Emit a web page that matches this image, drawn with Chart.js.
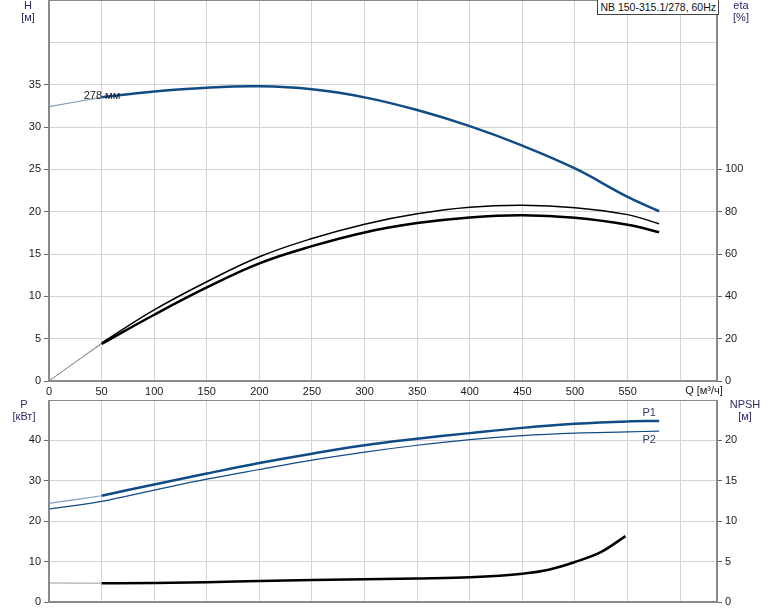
<!DOCTYPE html>
<html><head><meta charset="utf-8">
<script src="https://cdn.jsdelivr.net/npm/chart.js@4.4.1/dist/chart.umd.min.js"></script>
<style>
html,body{margin:0;padding:0;background:#fff;}
#wrap{position:relative;width:774px;height:611px;overflow:hidden;font-family:"Liberation Sans",Arial,sans-serif;}
#c1{position:absolute;left:0;top:0;}
#c2{position:absolute;left:0;top:400px;}
#title{position:absolute;left:597px;top:0;width:118px;height:14px;border:1px solid #444;border-top:none;background:#fff;font-size:10.5px;line-height:14px;text-align:right;padding-right:2px;color:#111;white-space:nowrap;box-sizing:content-box;}
</style></head>
<body><div id="wrap">
<canvas id="c1" width="774" height="400"></canvas>
<canvas id="c2" width="774" height="211"></canvas>
<div id="title">NB 150-315.1/278, 60Hz</div>
</div>
<script>
// ---- data ----
const qH = [0,50,100,150,200,250,300,350,400,450,500,550,580];
const headH = [32.4,33.5,34.2,34.65,34.8,34.45,33.5,32.0,30.1,27.8,25.1,21.75,20.05];
const qEta = [0,25,50,100,150,200,250,300,350,400,450,500,550,580];
const etaUpper = [0,9.0,18.0,33.6,46.9,58.7,67.3,74.1,79.0,82.1,83.0,81.9,78.6,74.3];
const etaLower = [0,8.8,17.5,31.3,44.2,55.6,63.7,70.2,74.6,77.3,78.3,77.1,73.8,70.3];
const qP = [0,50,100,150,200,250,300,350,400,450,500,550,580];
const powerP1 = [24.4,26.3,29.1,31.8,34.4,36.7,38.8,40.4,41.8,43.1,44.1,44.7,44.8];
const powerP2 = [23.0,24.9,27.7,30.4,32.8,35.1,37.1,38.8,40.2,41.2,41.8,42.1,42.3];
const qNpsh = [0,50,100,150,200,250,300,350,400,450,475,500,525,548];
const npsh = [2.35,2.33,2.35,2.45,2.6,2.72,2.82,2.92,3.05,3.5,4.0,4.95,6.2,8.15];
const qTickLabels = [0,50,100,150,200,250,300,350,400,450,500,550];
const hTickLabels = [0,5,10,15,20,25,30,35];
const etaTickLabels = [0,20,40,60,80,100];
const pTickLabels = [0,10,20,30,40];
const npshTickLabels = [0,5,10,15,20];
const curveLabel = '278 мм';
const pumpTitle = 'NB 150-315.1/278, 60Hz';

document.getElementById('title').textContent = pumpTitle;

const FONT = '"Liberation Sans", Arial, sans-serif';
const BLUE = '#114b86', BLUE_L = '#7d9cc2', BLACK = '#000', GREY = '#9a9a9a';
const GRID = '#d4d4d4', TXT = '#1a1a1a', TITLE = '#2a2a66';
const QSPLIT = 50;

function pts(q, v, from, to){ const r=[]; q.forEach((x,i)=>{ if(x>=from && x<=to) r.push({x:x,y:v[i]}); }); return r; }
function line(data, color, width, axis, mono){
  const d = {data, borderColor:color, borderWidth:width, pointRadius:0, showLine:true, fill:false, tension:0.4, yAxisID:axis};
  if (mono) d.cubicInterpolationMode = 'monotone';
  return d;
}
function noPad(s){ s.paddingTop=0; s.paddingBottom=0; s.paddingLeft=0; s.paddingRight=0; }

const frame = {
  id:'frame',
  afterDraw(chart, args, opts){
    const ctx = chart.ctx, a = chart.chartArea;
    ctx.save();
    ctx.strokeStyle = '#8a8a8a'; ctx.lineWidth = 2;
    ctx.strokeRect(a.left, a.top, a.right-a.left, a.bottom-a.top);
    (opts.texts||[]).forEach(t=>{
      ctx.font = (t.size||11)+'px '+FONT;
      ctx.fillStyle = t.color||TXT; ctx.textAlign = t.align||'center'; ctx.textBaseline='middle';
      let x=t.x, y=t.y;
      if (t.q!==undefined){ x = chart.scales.x.getPixelForValue(t.q)+(t.dx||0); y = chart.scales[t.axis].getPixelForValue(t.v)+(t.dy||0); }
      ctx.fillText(t.text, x, y);
    });
    ctx.restore();
  }
};

function yAxis(pos, max, step, labels, width){
  return {
    type:'linear', position:pos, min:0, max:max,
    afterFit(s){ s.width = width; noPad(s); },
    border:{display:false},
    grid:{ color:GRID, drawOnChartArea: pos==='left', tickLength:5,
      tickColor: c => (c.tick && labels.includes(c.tick.value)) ? '#666' : 'rgba(0,0,0,0)' },
    ticks:{ stepSize:step, autoSkip:false, padding:3, color:TXT, font:{family:FONT,size:11},
      callback: v => labels.includes(v) ? String(v) : '' }
  };
}
function xAxis(height, showLabels){
  return {
    type:'linear', position:'bottom', min:0, max:635,
    afterFit(s){ s.height = height; noPad(s); },
    border:{display:false},
    grid:{ color:GRID, drawTicks:false },
    ticks:{ display:showLabels, stepSize:50, autoSkip:false, maxRotation:0, padding:4, color:TXT, font:{family:FONT,size:11},
      callback: v => qTickLabels.includes(v) ? String(v) : '' }
  };
}

const common = { responsive:false, animation:false, events:[], layout:{padding:0, autoPadding:false} };

new Chart(document.getElementById('c1'), {
  type:'scatter',
  data:{ datasets:[
    line(pts(qEta, etaUpper, 0, QSPLIT), GREY, 1, 'y2'),
    line(pts(qEta, etaLower, 0, QSPLIT), GREY, 1, 'y2'),
    line(pts(qEta, etaUpper, QSPLIT, 1e9), BLACK, 1.5, 'y2'),
    line(pts(qEta, etaLower, QSPLIT, 1e9), BLACK, 2.5, 'y2'),
    line(pts(qH, headH, 0, QSPLIT), BLUE_L, 1.2, 'y'),
    line(pts(qH, headH, QSPLIT, 1e9), BLUE, 2.5, 'y')
  ]},
  options:Object.assign({}, common, {
    scales:{ x:xAxis(19,true), y:yAxis('left',45,5,hTickLabels,49), y2:yAxis('right',180,20,etaTickLabels,57) },
    plugins:{ legend:{display:false}, tooltip:{enabled:false},
      frame:{ texts:[
        {text:'H', x:28, y:6, color:TITLE},
        {text:'[м]', x:28, y:18, color:TITLE},
        {text:'eta', x:741, y:6, color:TITLE},
        {text:'[%]', x:741, y:18, color:TITLE},
        {text:'Q [м³/ч]', x:704, y:391, color:TXT},
        {text:curveLabel, q:33, v:33.6, axis:'y', align:'left', dy:-1, color:TXT}
      ]}
    }
  }),
  plugins:[frame]
});

new Chart(document.getElementById('c2'), {
  type:'scatter',
  data:{ datasets:[
    line(pts(qNpsh, npsh, 0, QSPLIT), GREY, 1, 'y2', true),
    line(pts(qNpsh, npsh, QSPLIT, 1e9), BLACK, 2.5, 'y2', true),
    line(pts(qP, powerP1, 0, QSPLIT), BLUE_L, 1.2, 'y'),
    line(pts(qP, powerP1, QSPLIT, 1e9), BLUE, 2.5, 'y'),
    line(pts(qP, powerP2, 0, 1e9), BLUE, 1.2, 'y')
  ]},
  options:Object.assign({}, common, {
    scales:{ x:xAxis(9,false), y:yAxis('left',50,10,pTickLabels,49), y2:yAxis('right',25,5,npshTickLabels,57) },
    plugins:{ legend:{display:false}, tooltip:{enabled:false},
      frame:{ texts:[
        {text:'P', x:24, y:5, color:TITLE},
        {text:'[кВт]', x:24, y:17, color:TITLE},
        {text:'NPSH', x:745, y:5, color:TITLE},
        {text:'[м]', x:745, y:17, color:TITLE},
        {text:'P1', q:qP[qP.length-1], v:powerP1[powerP1.length-1], axis:'y', dx:-10, dy:-8, color:'#2a3f66'},
        {text:'P2', q:qP[qP.length-1], v:powerP2[powerP2.length-1], axis:'y', dx:-10, dy:9, color:'#2a3f66'}
      ]}
    }
  }),
  plugins:[frame]
});
</script>
</body></html>
